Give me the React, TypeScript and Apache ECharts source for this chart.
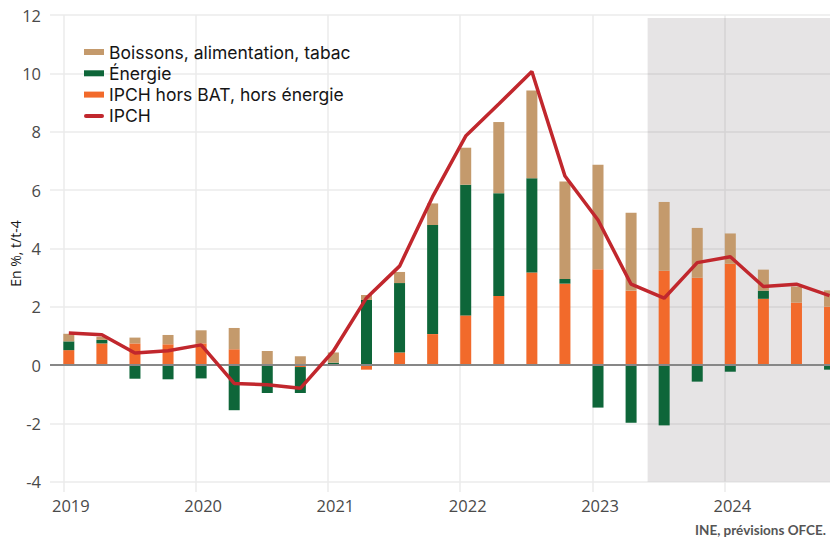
import React, { useEffect, useRef } from "react";
import * as echarts from "echarts";

const quarters = [
  "2019T1", "2019T2", "2019T3", "2019T4",
  "2020T1", "2020T2", "2020T3", "2020T4",
  "2021T1", "2021T2", "2021T3", "2021T4",
  "2022T1", "2022T2", "2022T3", "2022T4",
  "2023T1", "2023T2", "2023T3", "2023T4",
  "2024T1", "2024T2", "2024T3", "2024T4",
];
const core = [0.51, 0.74, 0.74, 0.71, 0.74, 0.54, 0.0, -0.07, 0.02, -0.16, 0.43, 1.06, 1.70, 2.37, 3.17, 2.79, 3.28, 2.55, 3.23, 2.99, 3.47, 2.27, 2.14, 2.0];
const energy = [0.30, 0.12, -0.47, -0.49, -0.46, -1.55, -0.96, -0.89, 0.06, 2.23, 2.38, 3.74, 4.48, 3.52, 3.23, 0.16, -1.46, -1.98, -2.07, -0.57, -0.23, 0.28, 0.0, -0.16];
const food = [0.26, 0.11, 0.20, 0.32, 0.45, 0.73, 0.48, 0.30, 0.35, 0.17, 0.38, 0.74, 1.27, 2.44, 3.01, 3.34, 3.59, 2.67, 2.36, 1.71, 1.04, 0.72, 0.55, 0.56];
const ipch = [1.10, 1.04, 0.41, 0.49, 0.69, -0.63, -0.68, -0.80, 0.48, 2.30, 3.39, 5.77, 7.85, 8.95, 10.06, 6.48, 4.97, 2.77, 2.29, 3.51, 3.71, 2.69, 2.77, 2.38];
const yearLabels = [2019, 2020, 2021, 2022, 2023, 2024];
const yTicks = [-4, -2, 0, 2, 4, 6, 8, 10, 12];
const forecastStart = "2023T3";

const names = {
  food: "Boissons, alimentation, tabac",
  energy: "Énergie",
  core: "IPCH hors BAT, hors énergie",
  ipch: "IPCH",
};

// quarter -> fractional year (middle of the first month of the quarter)
const qx = (q: string) => {
  const y = parseInt(q.slice(0, 4), 10);
  const n = parseInt(q.slice(5), 10);
  return y + (n - 1) / 4 + 1 / 24;
};

// layout
const W = 830;
const H = 542;
const PLOT_LEFT = 50;
const PLOT_TOP = 15;
const PLOT_BOTTOM = 50;
const YEAR_PX = 132.3;
const FIRST_YEAR_PX = 63.3;
const Y_MIN = -4.354;
const Y_MAX = 12;

export default function App() {
  const ref = useRef<HTMLDivElement>(null);
  useEffect(() => {
    if (!ref.current) return;
    const chart = echarts.init(ref.current, null, { renderer: "svg" });
    const tPairs = (vals: number[]) => quarters.map((q, i) => [qx(q), vals[i]]);
    const xMin = yearLabels[0] - (FIRST_YEAR_PX - PLOT_LEFT) / YEAR_PX;
    const xMax = xMin + (W - PLOT_LEFT) / YEAR_PX;
    const band = YEAR_PX / 4;
    const firstCenterPx = PLOT_LEFT + (qx(quarters[0]) - xMin) * YEAR_PX;
    const catLeft = firstCenterPx - band / 2;
    const catWidth = quarters.length * band;
    const fi = quarters.indexOf(forecastStart);
    const shadeStart = (qx(quarters[fi - 1]) + qx(quarters[fi])) / 2;
    const font = "'Open Sans', 'Noto Sans', sans-serif";
    const legendFont = "Inter, 'Open Sans', sans-serif";
    const barCommon = { type: "bar", stack: "tot", barWidth: 11, xAxisIndex: 1, yAxisIndex: 1 };
    chart.setOption({
      animation: false,
      textStyle: { fontFamily: font },
      grid: [
        {
          left: PLOT_LEFT, right: 0, top: PLOT_TOP, bottom: PLOT_BOTTOM,
          containLabel: false, outerBoundsMode: "none",
        },
        {
          left: catLeft, width: catWidth, top: PLOT_TOP, bottom: PLOT_BOTTOM,
          containLabel: false, outerBoundsMode: "none",
        },
      ],
      legend: {
        orient: "vertical",
        left: 84,
        top: 43,
        padding: 0,
        itemWidth: 20,
        itemHeight: 6,
        itemGap: 3.3,
        textStyle: { fontSize: 17.5, color: "#151515", fontFamily: legendFont, lineHeight: 18 },
        data: [
          { name: names.food, icon: "rect" },
          { name: names.energy, icon: "rect" },
          { name: names.core, icon: "rect" },
          { name: names.ipch, icon: "path://M2,0 L18,0 A2,2 0 0 1 18,4 L2,4 A2,2 0 0 1 2,0 Z" },
        ],
      },
      xAxis: [
        {
          type: "value",
          gridIndex: 0,
          min: xMin,
          max: xMax,
          axisLine: { show: false },
          axisTick: { show: false, customValues: yearLabels },
          splitLine: { show: true, lineStyle: { color: "#ebebeb", width: 1.5 } },
          axisLabel: {
            customValues: yearLabels.map((y) => y + 0.057),
            formatter: (v: number) => String(Math.floor(v)),
            fontSize: 16.5,
            color: "#4a4a4a",
            margin: 5,
            fontFamily: font,
          },
        },
        {
          type: "category",
          gridIndex: 1,
          data: quarters,
          show: false,
        },
      ],
      yAxis: [
        {
          type: "value",
          gridIndex: 0,
          min: Y_MIN,
          max: Y_MAX,
          name: "En %, t/t-4",
          nameLocation: "middle",
          nameGap: 28,
          nameMoveOverlap: false,
          nameTextStyle: { fontSize: 14, color: "#1a1a1a", fontFamily: font },
          axisLine: { show: false },
          axisTick: { show: false, customValues: yTicks },
          splitLine: { show: true, lineStyle: { color: "#ebebeb", width: 1.5 } },
          axisLabel: {
            customValues: yTicks,
            fontSize: 16.5,
            color: "#4a4a4a",
            margin: 9,
            fontFamily: font,
          },
        },
        {
          type: "value",
          gridIndex: 1,
          min: Y_MIN,
          max: Y_MAX,
          show: false,
          splitLine: { show: false },
        },
      ],
      series: [
        { ...barCommon, name: names.core, data: core, itemStyle: { color: "#f26a2b" } },
        { ...barCommon, name: names.energy, data: energy, itemStyle: { color: "#0e6639" } },
        { ...barCommon, name: names.food, data: food, itemStyle: { color: "#c49a6c" } },
        {
          type: "line",
          xAxisIndex: 0,
          yAxisIndex: 0,
          data: tPairs(ipch),
          symbol: "none",
          silent: true,
          z: 3,
          lineStyle: { opacity: 0 },
          markLine: {
            silent: true,
            symbol: "none",
            label: { show: false },
            lineStyle: { color: "#878787", width: 2, type: "solid" },
            data: [{ yAxis: 0 }],
          },
        },
        {
          type: "line",
          name: names.ipch,
          xAxisIndex: 1,
          yAxisIndex: 1,
          data: ipch,
          symbol: "none",
          z: 5,
          lineStyle: { color: "#c1272d", width: 3.5 },
          itemStyle: { color: "#c1272d" },
        },
        {
          type: "line",
          xAxisIndex: 0,
          yAxisIndex: 0,
          data: tPairs(ipch),
          symbol: "none",
          silent: true,
          z: 20,
          lineStyle: { opacity: 0 },
          markArea: {
            silent: true,
            itemStyle: { color: "rgba(115,105,110,0.18)" },
            data: [[{ xAxis: shadeStart, yAxis: -4 }, { xAxis: xMax, yAxis: 11.9 }]],
          },
        },
      ],
      graphic: [
        {
          type: "text",
          right: 4,
          top: 523,
          style: {
            text: "INE, prévisions OFCE.",
            fontSize: 13.5,
            fontWeight: "bold",
            fontFamily: "Lato, 'Open Sans', sans-serif",
            fill: "#555555",
          },
        },
      ],
    });
    return () => chart.dispose();
  }, []);
  return (
    <div
      ref={ref}
      style={{ position: "absolute", left: 0, top: 0, width: W, height: H }}
    />
  );
}
